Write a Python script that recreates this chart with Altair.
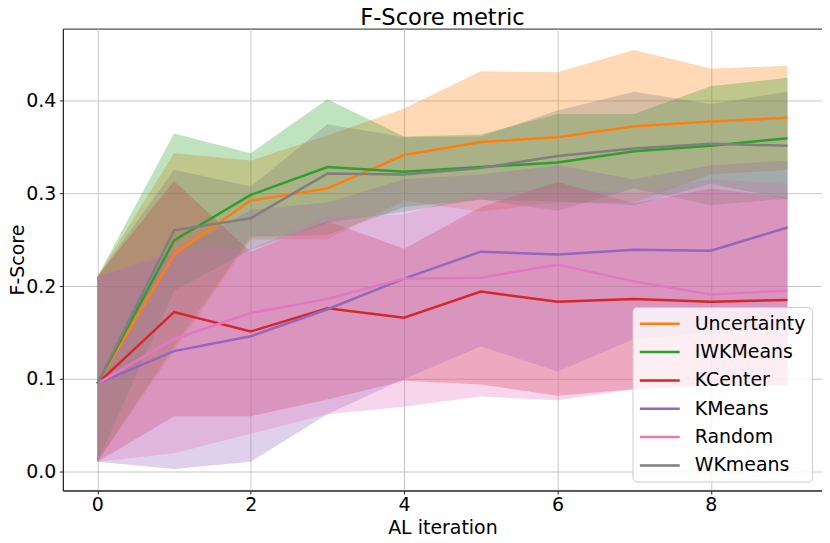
import altair as alt
import pandas as pd

iterations = [0, 1, 2, 3, 4, 5, 6, 7, 8, 9]
methods = ["Uncertainty", "IWKMeans", "KCenter", "KMeans", "Random", "WKmeans"]
colors = ["#ff7f0e", "#2ca02c", "#d62728", "#9467bd", "#e377c2", "#7f7f7f"]
title_text = ["F-Score metric"]

uncertainty_mean = [0.095, 0.234, 0.292, 0.305, 0.341, 0.355, 0.360, 0.372, 0.377, 0.381]
uncertainty_upper = [0.210, 0.343, 0.335, 0.362, 0.391, 0.431, 0.430, 0.454, 0.434, 0.437]
uncertainty_lower = [0.011, 0.130, 0.250, 0.250, 0.292, 0.280, 0.290, 0.290, 0.320, 0.325]

iwkmeans_mean = [0.095, 0.249, 0.298, 0.328, 0.323, 0.328, 0.333, 0.345, 0.351, 0.359]
iwkmeans_upper = [0.210, 0.364, 0.343, 0.401, 0.361, 0.363, 0.385, 0.385, 0.415, 0.424]
iwkmeans_lower = [0.011, 0.135, 0.253, 0.255, 0.285, 0.293, 0.281, 0.305, 0.287, 0.294]

kcenter_mean = [0.095, 0.172, 0.151, 0.176, 0.166, 0.194, 0.183, 0.186, 0.183, 0.185]
kcenter_upper = [0.210, 0.313, 0.237, 0.270, 0.240, 0.285, 0.312, 0.289, 0.305, 0.295]
kcenter_lower = [0.011, 0.060, 0.060, 0.078, 0.098, 0.094, 0.082, 0.089, 0.092, 0.093]

kmeans_mean = [0.095, 0.130, 0.146, 0.175, 0.208, 0.237, 0.234, 0.239, 0.238, 0.263]
kmeans_upper = [0.210, 0.235, 0.282, 0.290, 0.315, 0.320, 0.330, 0.315, 0.330, 0.335]
kmeans_lower = [0.011, 0.003, 0.011, 0.062, 0.100, 0.135, 0.108, 0.143, 0.150, 0.155]

random_mean = [0.095, 0.143, 0.171, 0.186, 0.208, 0.209, 0.223, 0.205, 0.191, 0.195]
random_upper = [0.210, 0.240, 0.240, 0.275, 0.277, 0.300, 0.305, 0.300, 0.315, 0.310]
random_lower = [0.011, 0.020, 0.041, 0.062, 0.070, 0.081, 0.077, 0.089, 0.095, 0.093]

wkmeans_mean = [0.095, 0.260, 0.273, 0.321, 0.320, 0.327, 0.340, 0.348, 0.353, 0.351]
wkmeans_upper = [0.210, 0.325, 0.307, 0.374, 0.360, 0.361, 0.389, 0.409, 0.396, 0.409]
wkmeans_lower = [0.011, 0.195, 0.239, 0.268, 0.280, 0.293, 0.291, 0.287, 0.310, 0.293]

series = {
    "Uncertainty": (uncertainty_mean, uncertainty_lower, uncertainty_upper),
    "IWKMeans": (iwkmeans_mean, iwkmeans_lower, iwkmeans_upper),
    "KCenter": (kcenter_mean, kcenter_lower, kcenter_upper),
    "KMeans": (kmeans_mean, kmeans_lower, kmeans_upper),
    "Random": (random_mean, random_lower, random_upper),
    "WKmeans": (wkmeans_mean, wkmeans_lower, wkmeans_upper),
}

rows = []
for m in methods:
    mean, lo, hi = series[m]
    for i, it in enumerate(iterations):
        rows.append({"method": m, "iter": it, "mean": mean[i], "lower": lo[i], "upper": hi[i]})
df = pd.DataFrame(rows)

FONT = "DejaVu Sans"

x_enc = alt.X(
    "iter:Q",
    scale=alt.Scale(domain=[-0.45, 9.45], nice=False, zero=False),
    axis=alt.Axis(
        values=[0, 2, 4, 6, 8], format="d", title="AL iteration", labelPadding=1.5,
        titleX=380.5, titleY=43, titleBaseline="alphabetic", titleAlign="center",
    ),
)
y_scale = alt.Scale(domain=[-0.02, 0.477], nice=False, zero=False)

layers = []
for m, c in zip(methods, colors):
    layers.append(
        alt.Chart(df)
        .transform_filter(alt.datum.method == m)
        .mark_area(color=c, opacity=0.3, strokeWidth=0)
        .encode(
            x=x_enc,
            y=alt.Y(
                "lower:Q", scale=y_scale,
                axis=alt.Axis(
                    values=[0.0, 0.1, 0.2, 0.3, 0.4], format=".1f", title="F-Score",
                    titleX=-39, titleY=231.5, titleAngle=270, titleBaseline="alphabetic",
                    titleAlign="center",
                ),
            ),
            y2="upper:Q",
        )
    )

lines = alt.Chart(df).mark_line(strokeWidth=2.5).encode(
    x=x_enc,
    y=alt.Y("mean:Q", scale=y_scale),
    color=alt.Color(
        "method:N",
        scale=alt.Scale(domain=methods, range=colors),
        sort=methods,
        legend=alt.Legend(
            title=None, orient="none", legendX=571, legendY=279,
            symbolType="M-2.105,0H2.105", symbolSize=361, symbolStrokeWidth=2.5,
            symbolOffset=10.5,
            labelFontSize=19, labelFont=FONT, labelColor="black", labelOffset=24,
            padding=5.9, rowPadding=7.4,
            fillColor="rgba(255,255,255,0.8)", strokeColor="#cccccc", cornerRadius=4,
        ),
    ),
)

title_layer = alt.Chart(pd.DataFrame({"t": title_text})).mark_text(
    font=FONT, fontSize=22.7, color="black", align="center", baseline="alphabetic"
).encode(x=alt.value(380.5), y=alt.value(-3.6), text="t:N")

chart = (
    alt.layer(*layers, lines, title_layer)
    .properties(
        width=761, height=463,
        autosize=alt.AutoSizeParams(type="none"),
        padding={"left": 55, "top": 20, "right": 0, "bottom": 52},
    )
    .configure_view(stroke="#222222", strokeWidth=1)
    .configure_axis(
        labelFont=FONT, titleFont=FONT, labelFontSize=19, titleFontSize=19,
        titleFontWeight="normal", labelColor="black", titleColor="black",
        domainColor="#222222", tickColor="#222222", tickSize=3.5, labelPadding=3.5,
        gridColor="#c8c8c8", gridWidth=1,
    )
)

chart.save("out.html", embed_options={"renderer": "svg", "actions": False})
